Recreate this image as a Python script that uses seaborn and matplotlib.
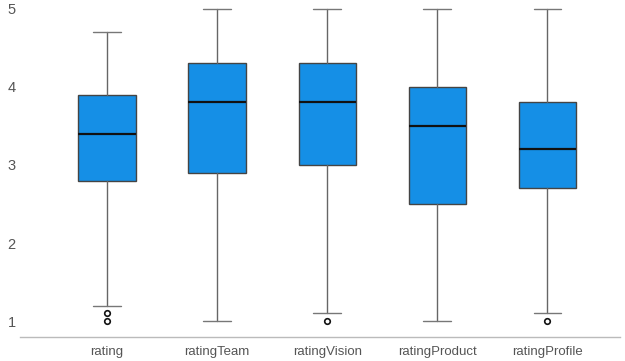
import matplotlib
import matplotlib.pyplot as plt
import seaborn as sns

matplotlib.use('Agg')

# box statistics
categories = ["rating", "ratingTeam", "ratingVision", "ratingProduct", "ratingProfile"]
whisker_low = [1.2, 1.0, 1.1, 1.0, 1.1]
q1 = [2.8, 2.9, 3.0, 2.5, 2.7]
median = [3.4, 3.8, 3.8, 3.5, 3.2]
q3 = [3.9, 4.3, 4.3, 4.0, 3.8]
whisker_high = [4.7, 5.0, 5.0, 5.0, 5.0]
outliers = [[1.1, 1.0], [], [1.0], [], [1.0]]

sns.set_style("white")
plt.rcParams['font.family'] = ['Liberation Sans', 'DejaVu Sans']

stats = []
for i, name in enumerate(categories):
    stats.append({
        "label": name,
        "whislo": whisker_low[i],
        "q1": q1[i],
        "med": median[i],
        "q3": q3[i],
        "whishi": whisker_high[i],
        "fliers": outliers[i],
    })

fig = plt.figure(figsize=(6.25, 3.61), dpi=100)
ax = fig.add_axes([0.032, 0.066, 0.96, 0.934])

ax.bxp(stats, positions=range(len(categories)), widths=0.52, patch_artist=True,
       boxprops=dict(facecolor="#158fe6", edgecolor="#444444", linewidth=1),
       medianprops=dict(color="#111111", linewidth=1.6),
       whiskerprops=dict(color="#666666", linewidth=1),
       capprops=dict(color="#777777", linewidth=1),
       capwidths=0.25,
       flierprops=dict(marker="o", markersize=4, markerfacecolor="white",
                       markeredgecolor="#111111", markeredgewidth=1.2))

ax.set_xlim(-0.79, 4.66)
ax.set_ylim(0.795, 5.11)
ax.set_yticks([1, 2, 3, 4, 5])
ax.tick_params(axis="both", length=0, labelcolor="#555555")
ax.tick_params(axis="x", labelsize=9.5, pad=6)
ax.tick_params(axis="y", labelsize=10.5, pad=3)
for s in ["left", "right", "top"]:
    ax.spines[s].set_visible(False)
ax.spines["bottom"].set_color("#bbbbbb")
ax.spines["bottom"].set_linewidth(1)

fig.savefig("out.png", dpi=100)
